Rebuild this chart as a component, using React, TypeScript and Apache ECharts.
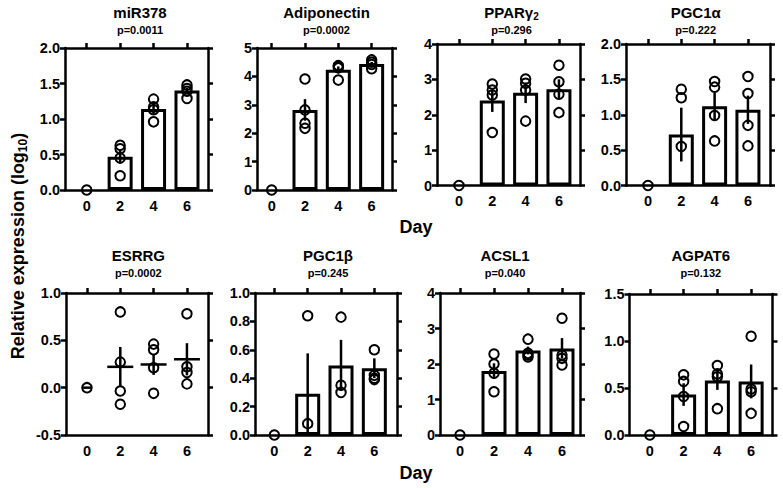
import React, { useEffect, useRef } from 'react';
import * as echarts from 'echarts';

// ---------- data ----------
const categories = ['0', '2', '4', '6'];

const mir378Means = [0, 0.47, 1.14, 1.4];
const mir378Sems = [0, 0.1, 0.07, 0.04];
const mir378Points = [[0], [0.63, 0.58, 0.45, 0.2], [1.28, 1.17, 1.13, 0.96], [1.48, 1.43, 1.39, 1.29]];

const adipoMeans = [0, 2.82, 4.23, 4.44];
const adipoSems = [0, 0.38, 0.12, 0.07];
const adipoPoints = [[0], [3.91, 2.82, 2.35, 2.17], [4.36, 4.3, 4.38, 3.87], [4.58, 4.5, 4.42, 4.27]];

const pparMeans = [0, 2.4, 2.62, 2.72];
const pparSems = [0, 0.32, 0.29, 0.28];
const pparPoints = [[0], [2.87, 2.7, 2.56, 1.5], [3.01, 2.89, 2.7, 1.82], [3.4, 2.93, 2.58, 2.06]];

const pgc1aMeans = [0, 0.72, 1.12, 1.07];
const pgc1aSems = [0, 0.38, 0.19, 0.2];
const pgc1aPoints = [[0], [1.36, 1.24, 0.55], [1.47, 1.39, 0.99, 0.63], [1.54, 1.3, 0.85, 0.56]];

const esrrgMeans = [0, 0.22, 0.245, 0.3];
const esrrgSems = [0, 0.21, 0.11, 0.17];
const esrrgPoints = [[0], [0.8, 0.27, -0.035, -0.175], [0.46, 0.4, 0.21, -0.06], [0.78, 0.22, 0.16, 0.04]];

const pgc1bMeans = [0, 0.29, 0.49, 0.47];
const pgc1bSems = [0, 0.285, 0.18, 0.07];
const pgc1bPoints = [[0], [0.84, 0.08], [0.83, 0.35, 0.3], [0.6, 0.42, 0.4, 0.39]];

const acsl1Means = [0, 1.8, 2.38, 2.44];
const acsl1Sems = [0, 0.22, 0.11, 0.29];
const acsl1Points = [[0], [2.28, 2.0, 1.74, 1.22], [2.7, 2.3, 2.25, 2.2], [3.29, 2.25, 2.16, 1.97]];

const agpat6Means = [0, 0.43, 0.58, 0.57];
const agpat6Sems = [0, 0.12, 0.1, 0.18];
const agpat6Points = [[0], [0.64, 0.57, 0.41, 0.09], [0.74, 0.65, 0.62, 0.28], [1.05, 0.49, 0.46, 0.23]];

const titles = ['miR378', 'Adiponectin', 'PPARγ{s|2}', 'PGC1α', 'ESRRG', 'PGC1β', 'ACSL1', 'AGPAT6'];
const pValues = ['p=0.0011', 'p=0.0002', 'p=0.296', 'p=0.222', 'p=0.0002', 'p=0.245', 'p=0.040', 'p=0.132'];
const yMins = [0, 0, 0, 0, -0.5, 0, 0, 0];
const yMaxs = [2, 5, 4, 2, 1, 1, 4, 1.5];
const yIntervals = [0.5, 1, 1, 0.5, 0.5, 0.2, 1, 0.5];
const yDecimals = [1, 0, 0, 1, 1, 1, 0, 1];
const showBars = [true, true, true, true, false, true, true, true];

const allMeans = [mir378Means, adipoMeans, pparMeans, pgc1aMeans, esrrgMeans, pgc1bMeans, acsl1Means, agpat6Means];
const allSems = [mir378Sems, adipoSems, pparSems, pgc1aSems, esrrgSems, pgc1bSems, acsl1Sems, agpat6Sems];
const allPoints = [mir378Points, adipoPoints, pparPoints, pgc1aPoints, esrrgPoints, pgc1bPoints, acsl1Points, agpat6Points];

// ---------- layout ----------
const layouts = [
  { boxL: 65, boxR: 208, top: 48, h: 142, inL: 70, inW: 133.7, tx: 140, ty: 12, py: 29.5 },
  { boxL: 257, boxR: 392, top: 48, h: 142, inL: 255, inW: 133.3, tx: 326.5, ty: 12, py: 29.5 },
  { boxL: 437, boxR: 580, top: 44, h: 141.5, inL: 442.3, inW: 133.3, tx: 511.5, ty: 12, py: 29.5 },
  { boxL: 626, boxR: 770, top: 44, h: 141.5, inL: 631.3, inW: 133.3, tx: 695.7, ty: 12, py: 29.5 },
  { boxL: 66, boxR: 208, top: 293, h: 142, inL: 70.3, inW: 133.3, tx: 138.3, ty: 255.5, py: 272.5 },
  { boxL: 255, boxR: 397, top: 293, h: 142, inL: 257.7, inW: 133.3, tx: 328, ty: 255.5, py: 272.5 },
  { boxL: 440, boxR: 580, top: 293, h: 142, inL: 443, inW: 136, tx: 505, ty: 255.5, py: 272.5 },
  { boxL: 629.5, boxR: 772.5, top: 294, h: 141, inL: 633, inW: 135, tx: 700.8, ty: 255.5, py: 272.5 },
];

const FONT = 'Liberation Sans, Arial, Helvetica, sans-serif';
const LW = 2.5;

function buildOption() {
  const grid: any[] = [];
  const xAxis: any[] = [];
  const yAxis: any[] = [];
  const series: any[] = [];
  const graphic: any[] = [];
  const lineStyle = { color: '#000', width: LW };

  layouts.forEach((L, i) => {
    const gA = grid.length;
    grid.push({ left: L.boxL, top: L.top, width: L.boxR - L.boxL, height: L.h });
    const gB = grid.length;
    grid.push({ left: L.inL, top: L.top, width: L.inW, height: L.h });

    // frame (grid A)
    ['bottom', 'top'].forEach((pos) => {
      xAxis.push({
        gridIndex: gA, type: 'value', min: 0, max: 1, position: pos,
        axisLine: { show: true, onZero: false, lineStyle },
        axisTick: { show: false }, axisLabel: { show: false }, splitLine: { show: false },
      });
    });
    yAxis.push({
      gridIndex: gA, type: 'value', min: yMins[i], max: yMaxs[i], interval: yIntervals[i], position: 'left',
      axisLine: { show: true, onZero: false, lineStyle },
      axisTick: { show: true, inside: false, length: 5, lineStyle },
      axisLabel: {
        show: true, margin: 5, color: '#000', fontSize: 14.5, fontWeight: 'bold', fontFamily: FONT,
        formatter: (v: number) => v.toFixed(yDecimals[i]),
      },
      splitLine: { show: false },
    });
    yAxis.push({
      gridIndex: gA, type: 'value', min: yMins[i], max: yMaxs[i], interval: yIntervals[i], position: 'right',
      axisLine: { show: true, onZero: false, lineStyle },
      axisTick: { show: true, inside: false, length: 5, lineStyle },
      axisLabel: { show: false }, splitLine: { show: false },
    });

    // data grid (grid B)
    const xb = xAxis.length;
    xAxis.push({
      gridIndex: gB, type: 'category', data: categories, position: 'bottom',
      axisLine: { show: false, onZero: false }, axisTick: { show: false },
      axisLabel: { show: true, margin: 8, color: '#000', fontSize: 14.5, fontWeight: 'bold', fontFamily: FONT },
      splitLine: { show: false },
    });
    xAxis.push({
      gridIndex: gB, type: 'category', data: categories, position: 'top',
      axisLine: { show: false, onZero: false },
      axisTick: { show: true, alignWithLabel: true, inside: false, length: 5, lineStyle },
      axisLabel: { show: false }, splitLine: { show: false },
    });
    const yb = yAxis.length;
    yAxis.push({
      gridIndex: gB, type: 'value', min: yMins[i], max: yMaxs[i], show: false, splitLine: { show: false },
    });

    const means = allMeans[i];
    const sems = allSems[i];
    const points = allPoints[i];

    if (showBars[i]) {
      series.push({
        type: 'bar', xAxisIndex: xb, yAxisIndex: yb, barWidth: 25, z: 2,
        data: means.map((m, ci) => (ci === 0 ? '-' : m)),
        itemStyle: { color: '#fff', borderColor: '#000', borderWidth: 3 },
        silent: true,
      });
    }
    const pts: number[][] = [];
    points.forEach((arr, ci) => arr.forEach((v) => pts.push([ci, v])));
    series.push({
      type: 'scatter', xAxisIndex: xb, yAxisIndex: yb, z: 3, symbol: 'circle', symbolSize: 9.5,
      data: pts,
      itemStyle: { color: 'rgba(0,0,0,0)', borderColor: '#000', borderWidth: 2, opacity: 1 },
      silent: true,
    });
    const meanLine = !showBars[i];
    const errData = means.map((m, ci) => [ci, m, sems[ci]]).filter((d) => meanLine || d[0] > 0);
    series.push({
      type: 'custom', xAxisIndex: xb, yAxisIndex: yb, z: 4, silent: true,
      data: errData,
      renderItem: (params: any, api: any) => {
        const x = api.value(0);
        const m = api.value(1);
        const s = api.value(2);
        const st = { stroke: '#000', lineWidth: 2.5 };
        const children: any[] = [];
        if (s > 0) {
          const t = api.coord([x, m + s]);
          const b = api.coord([x, m - s]);
          children.push({ type: 'line', shape: { x1: t[0], y1: t[1], x2: b[0], y2: b[1] }, style: st });
        }
        if (meanLine) {
          const c = api.coord([x, m]);
          const hw = s > 0 ? 13 : 5;
          children.push({ type: 'line', shape: { x1: c[0] - hw, y1: c[1], x2: c[0] + hw, y2: c[1] }, style: st });
        }
        return { type: 'group', children };
      },
    });

    graphic.push({
      type: 'text', x: L.tx, y: L.ty, silent: true,
      style: {
        text: titles[i], fill: '#000', fontSize: 15, fontWeight: 'bold', fontFamily: FONT,
        align: 'center', verticalAlign: 'middle', lineHeight: 18,
        rich: { s: { fontSize: 10, fontWeight: 'bold', fontFamily: FONT, fill: '#000', verticalAlign: 'bottom', lineHeight: 18, padding: [6, 0, 0, 0] } },
      },
    });
    graphic.push({
      type: 'text', x: L.tx, y: L.py, silent: true,
      style: {
        text: pValues[i], fill: '#000', fontSize: 11, fontWeight: 'bold', fontFamily: FONT,
        align: 'center', verticalAlign: 'middle',
      },
    });
  });

  graphic.push({
    type: 'text', x: 416, y: 227, silent: true,
    style: { text: 'Day', fill: '#000', fontSize: 18, fontWeight: 'bold', fontFamily: FONT, align: 'center', verticalAlign: 'middle' },
  });
  graphic.push({
    type: 'text', x: 416, y: 473, silent: true,
    style: { text: 'Day', fill: '#000', fontSize: 18, fontWeight: 'bold', fontFamily: FONT, align: 'center', verticalAlign: 'middle' },
  });
  graphic.push({
    type: 'text', x: 18, y: 246, rotation: Math.PI / 2, silent: true,
    style: {
      text: 'Relative expression (log{s|10})', fill: '#000', fontSize: 18, fontWeight: 'bold', fontFamily: FONT,
      align: 'center', verticalAlign: 'middle', lineHeight: 21,
      rich: { s: { fontSize: 12, fontWeight: 'bold', fontFamily: FONT, fill: '#000', verticalAlign: 'bottom', lineHeight: 21, padding: [7, 0, 0, 0] } },
    },
  });

  return {
    animation: false,
    backgroundColor: '#fff',
    grid, xAxis, yAxis, series, graphic,
  };
}

export default function App() {
  const ref = useRef<HTMLDivElement>(null);
  useEffect(() => {
    if (!ref.current) return;
    const chart = echarts.init(ref.current, undefined, { renderer: 'svg' });
    chart.setOption(buildOption() as any);
    return () => chart.dispose();
  }, []);
  return <div ref={ref} style={{ position: 'absolute', left: 0, top: 0, width: 783, height: 488 }} />;
}
